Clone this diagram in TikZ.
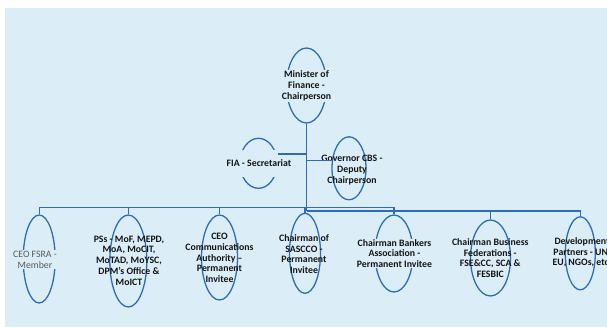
\documentclass[tikz,border=0pt]{standalone}
\usepackage{fontspec}
\setmainfont{Carlito}
\usetikzlibrary{shapes.geometric}
\definecolor{bgblue}{RGB}{219,238,247}
\definecolor{lineblue}{RGB}{46,109,180}
\definecolor{txt}{RGB}{20,20,20}
\definecolor{greytxt}{RGB}{89,89,89}
\begin{document}
\begin{tikzpicture}[x=1pt,y=-1pt,
  oval/.style={ellipse, draw=lineblue, line width=1.3pt, inner sep=0pt},
  lbl/.style={font=\bfseries\fontsize{9.8}{10.7}\selectfont, align=center, text=txt, inner sep=0.8pt},
  cover/.style={fill=bgblue},
  conn/.style={draw=lineblue, line width=1.3pt}]
\useasboundingbox (0,0) rectangle (607,327);
\fill[white] (0,0) rectangle (607,327);
\clip (0,0) rectangle (607,327);
\fill[bgblue] (5,8) rectangle (607,327);

% ellipses
\node[oval, minimum width=40pt, minimum height=75pt] (minE) at (306.5,85.5) {};
\node[oval, minimum width=37pt, minimum height=50pt] (fiaE) at (258.5,163.3) {};
\node[oval, minimum width=34pt, minimum height=63pt] (govE) at (349,168.3) {};
\node[oval, minimum width=32pt, minimum height=88pt] (fsraE) at (39.2,259) {};
\node[oval, minimum width=37pt, minimum height=92pt] (psE) at (128.3,261) {};
\node[oval, minimum width=36pt, minimum height=85pt] (commE) at (219.5,257.5) {};
\node[oval, minimum width=31pt, minimum height=80pt] (sasE) at (305,253.3) {};
\node[oval, minimum width=38pt, minimum height=77pt] (bankE) at (394,253.5) {};
\node[oval, minimum width=40pt, minimum height=76pt] (busE) at (490.5,258) {};
\node[oval, minimum width=30pt, minimum height=73pt] (devE) at (580.3,253.3) {};

% labels
\node[lbl, cover] (minT) at (306.5,86) {Minister of\\Finance -\\Chairperson};
\node[lbl, cover, minimum height=27pt, inner xsep=0.5pt] (fiaT) at (259,163.5) {FIA - Secretariat};
\node[lbl] (govT) at (352,170) {Governor CBS -\\Deputy\\Chairperson};
\node[lbl, cover, font=\fontsize{9.8}{10.7}\selectfont, text=greytxt] (fsraT) at (35,259.5) {CEO FSRA -\\Member};
\node[lbl] (psT) at (129,260.5) {PSs - MoF, MEPD,\\MoA, MoCIT,\\MoTAD, MoYSC,\\DPM's Office \&\\MoICT};
\node[lbl] (commT) at (219.5,258) {CEO\\Communications\\Authority --\\Permanent\\Invitee};
\node[lbl] (sasT) at (304,254) {Chairman of\\SASCCO -\\Permanent\\Invitee};
\node[lbl, cover] (bankT) at (394.5,253.5) {Chairman Bankers\\Association -\\Permanent Invitee};
\node[lbl] (busT) at (490.3,258) {Chairman Business\\Federations -\\FSE\&CC, SCA \&\\FESBIC};
\node[lbl] (devT) at (582,252.5) {Development\\Partners - UN,\\EU, NGOs, etc.};

% connector points
\coordinate (tF) at (306.7,154);
\coordinate (tG) at (306.7,160.7);
\coordinate (jL) at (306.7,207.7);
\coordinate (jR) at (306.7,211);

% connectors
\draw[conn] (minE.south -| jL) -- (jR);
\draw[conn] (fiaE.east |- tF) -- (tF);
\draw[conn] (tG) -- (govE.west |- tG);
\draw[conn] (jL) -| (fsraE.north);
\draw[conn] (jL) -| (psE.north);
\draw[conn] (jL) -| (commE.north);
\draw[conn] (jL) -| (sasE.north);
\draw[conn] (jL) -| (bankE.north);
\draw[conn] (jR) -| (busE.north);
\draw[conn] (jR) -| (devE.north);
\end{tikzpicture}
\end{document}
